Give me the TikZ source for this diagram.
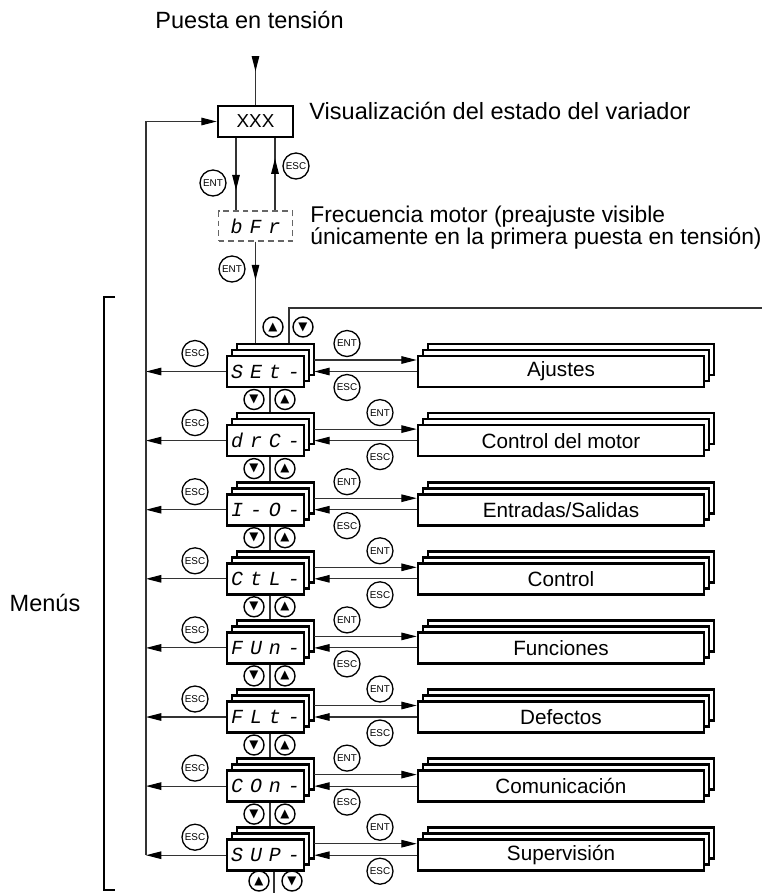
\documentclass[tikz,border=0pt]{standalone}
\usepackage{fontspec}
\setmainfont{Liberation Sans}
\newfontfamily\segfont{Liberation Mono}
\newfontfamily\symfont{DejaVu Sans}
\usetikzlibrary{arrows.meta,calc,shadows,decorations.markings}

\def\px{0.4255pt}
\newcommand{\ssp}{\hspace{.35em}}

\tikzset{
	conn/.style={line width=0.45pt,draw=black!80},
	box/.style={draw,line width=1.1pt,fill=white,inner sep=0pt,minimum height=31*\px,
		font=\fontsize{8}{9}\selectfont},
	disp/.style={box,minimum width=77*\px,font=\segfont\itshape\fontsize{8.5}{9}\selectfont},
	menubox/.style={box,minimum width=286*\px,font=\fontsize{8.8}{10}\selectfont},
	stack/.style={double copy shadow={shadow xshift=2.1pt,shadow yshift=2.55pt}},
	key/.style={circle,draw,line width=0.55pt,minimum size=26*\px,inner sep=0pt,
		font=\fontsize{4.2}{4.2}\selectfont},
	updown/.style={circle,draw,line width=0.6pt,minimum size=20*\px,inner sep=0pt,
		font=\symfont\fontsize{5}{5}\selectfont},
	mid arrow/.style={postaction={decorate},decoration={markings,
		mark=at position #1 with {\arrow{Triangle[length=6.5pt,width=3.2pt,color=black]}}}}
}

\begin{document}
\begin{tikzpicture}[x=\px,y=-\px,>={Triangle[length=6.5pt,width=3.2pt,color=black]},
	font=\fontsize{10}{12}\selectfont]
	\useasboundingbox (0,0) rectangle (762,893);

	% power on and status display
	\node[anchor=base west,inner sep=0pt] (pwrtxt) at (155,28) {Puesta en tensión};
	\coordinate (pwr) at (255.5,57);
	\node[box,minimum width=75*\px] (xxx) at (255.5,121.5) {XXX};
	\node[anchor=base west,inner sep=0pt] (xxxtxt) at (309,119) {Visualización del estado del variador};
	\draw[conn,mid arrow=0.3] (pwr) -- (xxx.north);

	% motor frequency
	\node[disp,dashed,draw=black!60,line width=0.55pt,dash pattern=on 2.5pt off 1.7pt,
		minimum width=74*\px,minimum height=30*\px] (bfr) at (255.5,226) {b\ssp F\ssp r};
	\node[anchor=north west,inner sep=0pt,align=left,font=\fontsize{9.7}{9.36}\selectfont]
		(bfrtxt) at (310,206) {Frecuencia motor (preajuste visible\\únicamente en la primera puesta en tensión)};
	\draw[conn,mid arrow=0.72] ($(xxx.south)+(-19.5,0)$) -- ($(bfr.north)+(-19.5,0)$);
	\draw[conn,mid arrow=0.72] ($(bfr.north)+(19.5,0)$) -- ($(xxx.south)+(19.5,0)$);
	\node[key] (ent0) at (213,183) {ENT};
	\node[key] (esc0) at (296,166) {ESC};
	\node[key] (ent1) at (232,269) {ENT};

	% menus
	\coordinate (lft) at (146,0);
	\foreach \k/\code/\menu in {
		0/{S\ssp E\ssp t\ssp -}/Ajustes,
		1/{d\ssp r\ssp C\ssp -}/Control del motor,
		2/{I\ssp -\ssp O\ssp -}/Entradas\slash Salidas,
		3/{C\ssp t\ssp L\ssp -}/Control,
		4/{F\ssp U\ssp n\ssp -}/Funciones,
		5/{F\ssp L\ssp t\ssp -}/Defectos,
		6/{C\ssp O\ssp n\ssp -}/Comunicación,
		7/{S\ssp U\ssp P\ssp -}/Supervisión} {
		\pgfmathsetmacro\yk{371.5+69.1*\k}
		\pgfmathsetmacro\kx{isodd(\k) ? 380 : 347}
		\node[disp,stack] (d\k) at (265.5,\yk) {\code};
		\node[menubox,stack] (m\k) at (561,\yk) {\menu};
		\draw[conn,->] ($(d\k.east)+(9,-11.5)$) -- ($(m\k.west)+(0,-11.5)$);
		\draw[conn,->] (m\k.west) -- ($(d\k.east)+(9,0)$);
		\draw[conn,->] (d\k.west) -- (d\k.west -| lft);
		\node[key] (entr\k) at (\kx,\yk-28) {ENT};
		\node[key] (escr\k) at (\kx,\yk+16) {ESC};
		\node[key] (escl\k) at (195,\yk-18) {ESC};
	}

	% between the menus
	\foreach \k [evaluate=\k as \n using int(\k+1)] in {0,...,6} {
		\draw[conn] ($(d\k.south)+(4.5,0)$) -- ($(d\n.north)+(4.5,-12)$);
		\node[updown] (dn\k) at (254,{371.5+69.1*\k+28}) {▼};
		\node[updown] (up\k) at (285,{371.5+69.1*\k+28}) {▲};
	}

	% loop round
	\coordinate (ret) at (762,308);
	\coordinate (bot) at (274,893);
	\draw[conn,mid arrow=0.38] (bfr.south) -- ($(d0.north)+(-10,-12)$);
	\draw[conn] ($(d0.north)+(23.5,-12)$) |- (ret);
	\node[updown] (uptop) at (273,327) {▲};
	\node[updown] (dntop) at (303,327) {▼};
	\draw[conn] ($(d7.south)+(8.5,0)$) -- (bot);
	\node[updown] (upbot) at (259,881) {▲};
	\node[updown] (dnbot) at (292,881) {▼};
	\draw[conn,->] (lft |- d7.west) |- (xxx.west);

	% bracket
	\draw[line width=0.45pt] (115,297) -- (104,297) -- (104,890) -- (115,890);
	\node (menus) at (45,603) {Menús};
\end{tikzpicture}
\end{document}
